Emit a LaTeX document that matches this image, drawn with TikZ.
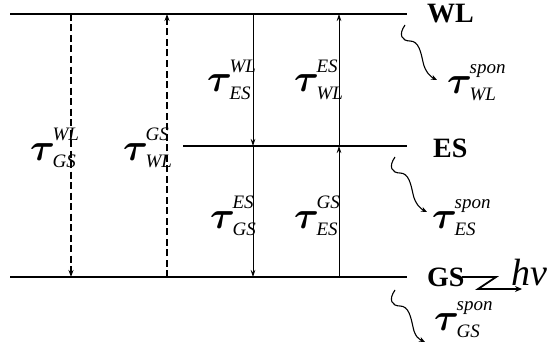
\RequirePackage{fix-cm}
\documentclass[tikz,border=0pt]{standalone}
\usepackage{fontspec}
\usepackage{bm}
\setmainfont{Liberation Serif}
\usetikzlibrary{arrows.meta,calc}
\newcommand\tauf{\fontsize{38}{38}\selectfont}
\newcommand\scf{\fontsize{19}{19}\selectfont\itshape}
\newcommand\tlab[2]{{\tauf$\bm{\tau}$}\kern-2.5pt\sbox0{\scf #1}\sbox2{\scf #2}\ifdim\wd0>\wd2 \rlap{\raisebox{-7pt}{\usebox2}}\raisebox{20pt}{\usebox0}\else\rlap{\raisebox{20pt}{\usebox0}}\raisebox{-7pt}{\usebox2}\fi}
\tikzset{
  level/.style={line width=1.8pt},
  dasharrow/.style={line width=1.5pt, dash pattern=on 7pt off 3.5pt, -{Stealth[length=7pt,width=5pt]}},
  thinarrow/.style={line width=0.7pt, -{Stealth[length=7pt,width=4.5pt]}},
  snakearrow/.style={line width=1.1pt, -{Stealth[length=6pt,width=5pt]}},
  lvl/.style={font=\fontsize{28}{28}\selectfont\bfseries, anchor=base west, inner sep=0pt},
  tl/.style={anchor=base west, inner sep=0pt},
  zig/.style={line width=1.8pt, -{Stealth[length=7pt,width=6pt]}}
}
\begin{document}
\begin{tikzpicture}[x=1pt,y=-1pt]
\useasboundingbox (0,0) rectangle (551,345);
% levels
\coordinate (wl1) at (10,14);  \coordinate (wl2) at (407,14);
\coordinate (es1) at (183,146); \coordinate (es2) at (407,146);
\coordinate (gs1) at (10,277); \coordinate (gs2) at (407,277);
\draw[level] (wl1) -- (wl2);
\draw[level] (es1) -- (es2);
\draw[level] (gs1) -- (gs2);
\node[lvl] (WLt) at (427,23) {WL};
\node[lvl] (ESt) at (433,157) {ES};
\node[lvl] (GSt) at (427,286) {GS};
% transition endpoints
\coordinate (a1t) at (71,14);  \coordinate (a1b) at (71,277);
\coordinate (a2t) at (167,14); \coordinate (a2b) at (167,277);
\coordinate (a3t) at (253,14); \coordinate (a3m) at (253,146); \coordinate (a3b) at (253,277);
\coordinate (a4t) at (339,14); \coordinate (a4m) at (339,146); \coordinate (a4b) at (339,277);
\draw[dasharrow] (a1t) -- (a1b);
\draw[dasharrow] (a2b) -- (a2t);
\draw[thinarrow] (a3t) -- (a3m);
\draw[thinarrow] (a3m) -- (a3b);
\draw[thinarrow] (a4b) -- (a4m);
\draw[thinarrow] (a4m) -- (a4t);
% labels
\node[tl] (l1) at (30,160) {\tlab{WL}{GS}};
\node[tl] (l2) at (123,160) {\tlab{GS}{WL}};
\node[tl] (l3) at (207,92) {\tlab{WL}{ES}};
\node[tl] (l4) at (294,92) {\tlab{ES}{WL}};
\node[tl] (l5) at (210,228) {\tlab{ES}{GS}};
\node[tl] (l6) at (294,228) {\tlab{GS}{ES}};
\node[tl] (s1) at (447,93) {\tlab{spon}{WL}};
\node[tl] (s2) at (432,228) {\tlab{spon}{ES}};
\node[tl] (s3) at (434,330) {\tlab{spon}{GS}};
% spontaneous emission snakes
\coordinate (w1) at (405,25);  \coordinate (w1e) at (437,80);
\coordinate (w2) at (395,157); \coordinate (w2e) at (427,212);
\coordinate (w3) at (395,290); \coordinate (w3e) at (425,342);
\foreach \s/\e in {w1/w1e,w2/w2e,w3/w3e}{
  \draw[snakearrow] (\s) .. controls +(-7,10) and +(-8,0) .. ($(\s)+(5,16)$)
     .. controls +(9,0) and +(-2,-9) .. ($(\s)+(18,37)$)
     .. controls +(2,10) and +(-6,-3) .. (\e);
}
% photon
\coordinate (z0) at (462,277);
\coordinate (z1) at (496,277);
\coordinate (z2) at (478,289);
\coordinate (z3) at (522,289);
\draw[zig] (z0) -- (z1) -- (z2) -- (z3);
\node[anchor=base west, inner sep=0pt, font=\fontsize{38}{38}\selectfont\itshape] (hv) at (511,285) {hv};
\end{tikzpicture}
\end{document}
